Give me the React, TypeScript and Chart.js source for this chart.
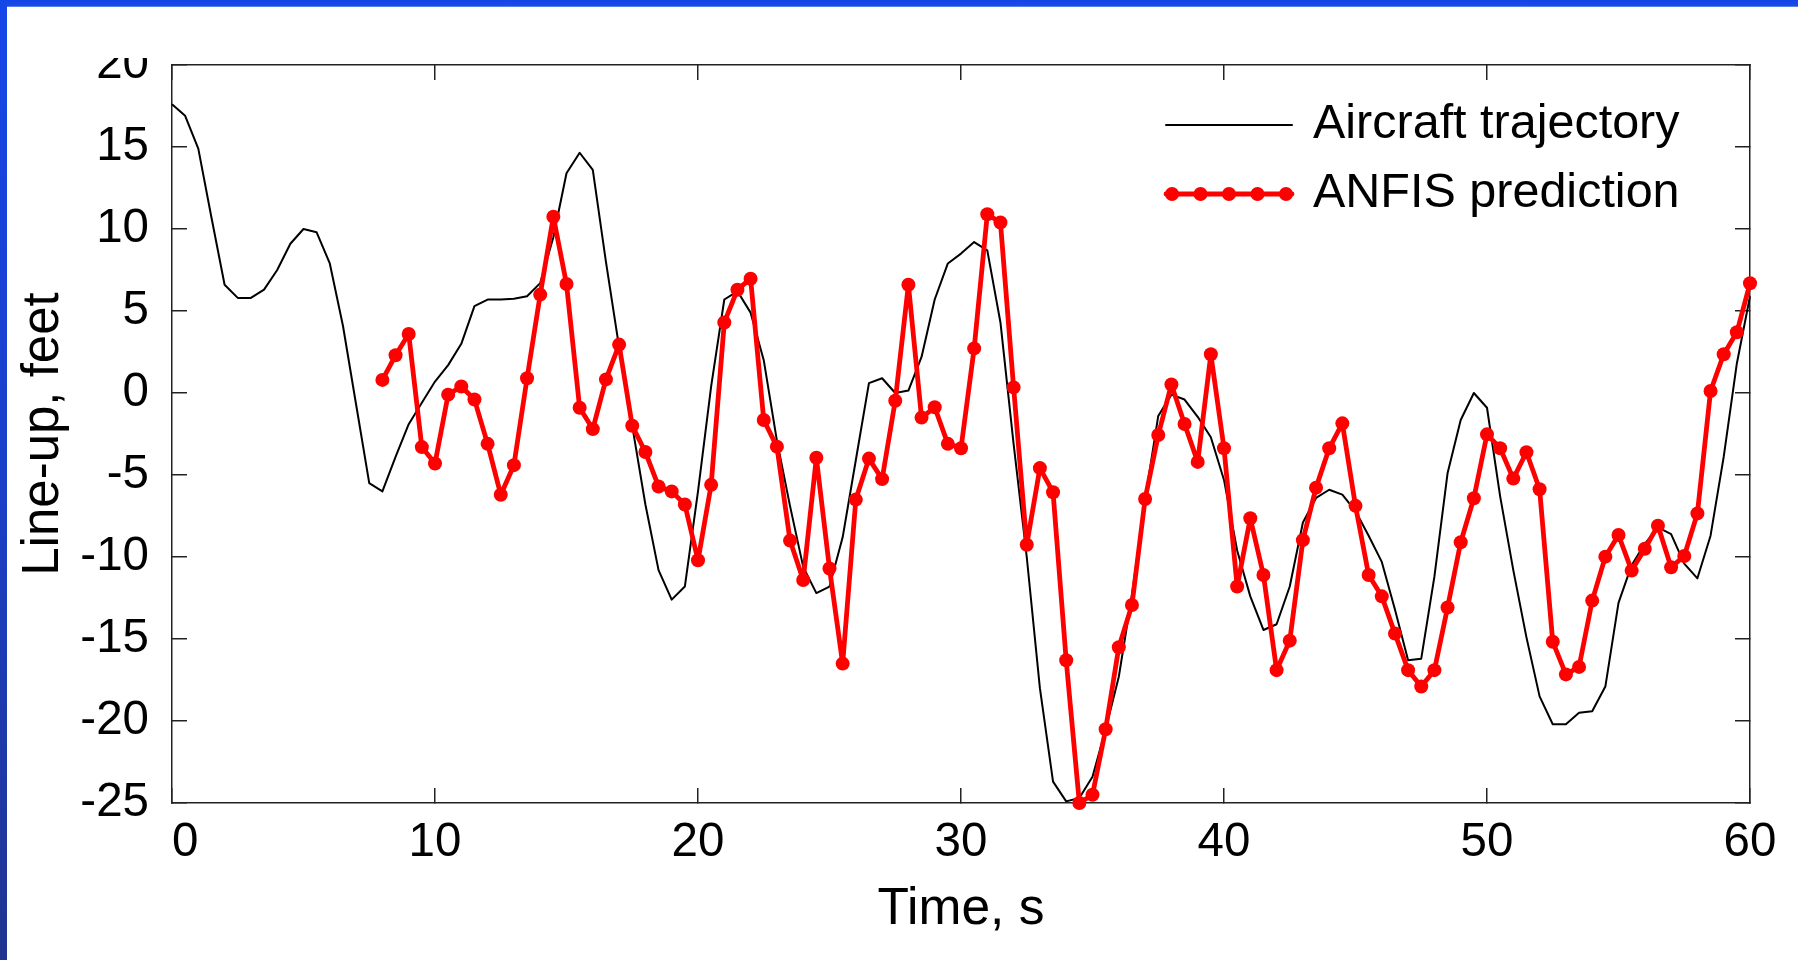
import React, { useEffect, useRef } from 'react';
import { Chart, registerables } from 'chart.js';

Chart.register(...registerables);

const FONT = '"Liberation Sans", Arial, Helvetica, sans-serif';

const seriesNames = ['Aircraft trajectory', 'ANFIS prediction'];
const xTitle = 'Time, s';
const yTitle = 'Line-up, feet';

const timeTicks = [0, 10, 20, 30, 40, 50, 60];
const lineupTicks = [-25, -20, -15, -10, -5, 0, 5, 10, 15, 20];

const trajTime = [
  0, 0.5, 1, 1.5, 2, 2.5, 3, 3.5, 4, 4.5,
  5, 5.5, 6, 6.5, 7, 7.5, 8, 8.5, 9, 9.5,
  10, 10.5, 11, 11.5, 12, 12.5, 13, 13.5, 14, 14.5,
  15, 15.5, 16, 16.5, 17, 17.5, 18, 18.5, 19, 19.5,
  20, 20.5, 21, 21.5, 22, 22.5, 23, 23.5, 24, 24.5,
  25, 25.5, 26, 26.5, 27, 27.5, 28, 28.5, 29, 29.5,
  30, 30.5, 31, 31.5, 32, 32.5, 33, 33.5, 34, 34.5,
  35, 35.5, 36, 36.5, 37, 37.5, 38, 38.5, 39, 39.5,
  40, 40.5, 41, 41.5, 42, 42.5, 43, 43.5, 44, 44.5,
  45, 45.5, 46, 46.5, 47, 47.5, 48, 48.5, 49, 49.5,
  50, 50.5, 51, 51.5, 52, 52.5, 53, 53.5, 54, 54.5,
  55, 55.5, 56, 56.5, 57, 57.5, 58, 58.5, 59, 59.5,
  60,
];

const trajLineup = [
  17.6, 16.9, 14.9, 10.7, 6.6, 5.8, 5.8, 6.3, 7.5, 9.1,
  10.0, 9.8, 7.9, 4.1, -0.7, -5.5, -6.0, -3.9, -1.9, -0.6,
  0.7, 1.7, 3.0, 5.3, 5.7, 5.7, 5.75, 5.9, 6.7, 9.5,
  13.4, 14.65, 13.6, 8.0, 2.8, -2.0, -6.8, -10.8, -12.6, -11.8,
  -6.0, 0.4, 5.7, 6.2, 4.9, 2.0, -2.9, -6.9, -10.6, -12.2,
  -11.8, -8.8, -4.1, 0.6, 0.9, 0.0, 0.15, 2.2, 5.7, 7.9,
  8.5, 9.2, 8.7, 4.3, -3.1, -10.0, -18.0, -23.7, -24.9, -24.7,
  -23.4, -20.5, -17.3, -12.3, -6.5, -1.4, -0.1, -0.4, -1.45, -2.7,
  -5.3, -9.6, -12.4, -14.45, -14.1, -11.8, -7.9, -6.4, -5.9, -6.2,
  -7.2, -8.7, -10.3, -13.2, -16.3, -16.2, -11.2, -4.9, -1.65, 0.0,
  -0.9, -6.3, -10.8, -14.9, -18.5, -20.2, -20.2, -19.5, -19.4, -17.9,
  -12.8, -10.5, -9.2, -8.2, -8.6, -10.4, -11.3, -8.7, -3.9, 1.8,
  5.9,
];

// prediction starts at t = 8 s, on the same sampling grid
const predTime = trajTime.slice(trajTime.indexOf(8));

const predLineup = [
  0.8, 2.3, 3.6, -3.3, -4.3, -0.1, 0.4, -0.4, -3.1, -6.2,
  -4.4, 0.9, 6.0, 10.75, 6.65, -0.9, -2.2, 0.83, 2.95, -2.0,
  -3.6, -5.7, -6.0, -6.8, -10.2, -5.6, 4.3, 6.3, 6.97, -1.65,
  -3.27, -9.0, -11.4, -3.95, -10.7, -16.5, -6.5, -4.0, -5.25, -0.47,
  6.6, -1.5, -0.87, -3.1, -3.37, 2.72, 10.9, 10.4, 0.34, -9.25,
  -4.58, -6.05, -16.3, -25.0, -24.5, -20.5, -15.5, -12.93, -6.46, -2.56,
  0.52, -1.89, -4.2, 2.36, -3.37, -11.8, -7.64, -11.1, -16.9, -15.1,
  -8.97, -5.77, -3.37, -1.85, -6.88, -11.1, -12.4, -14.67, -16.9, -17.9,
  -16.9, -13.08, -9.1, -6.42, -2.52, -3.37, -5.22, -3.61, -5.87, -15.17,
  -17.16, -16.7, -12.66, -9.98, -8.66, -10.83, -9.5, -8.09, -10.63, -9.94,
  -7.34, 0.12, 2.36, 3.7, 6.69,
];

const AXIS_COLOR = '#222';

const insideLegend = {
  id: 'insideLegend',
  afterDatasetsDraw(chart: any) {
    const { ctx, chartArea } = chart;
    const x0 = chartArea.right - 584;
    const x1 = chartArea.right - 458;
    const tx = chartArea.right - 437;
    const rows = [chartArea.top + 60, chartArea.top + 129];
    chart.data.datasets.forEach((ds: any, i: number) => {
      const y = rows[i];
      ctx.save();
      ctx.strokeStyle = ds.borderColor;
      ctx.lineWidth = ds.borderWidth;
      ctx.lineCap = 'round';
      ctx.beginPath();
      ctx.moveTo(x0, y);
      ctx.lineTo(x1, y);
      ctx.stroke();
      if (ds.pointRadius > 0) {
        ctx.fillStyle = ds.pointBackgroundColor;
        for (let k = 0; k < 5; k++) {
          const px = x0 + 6 + (k * (x1 - x0 - 12)) / 4;
          ctx.beginPath();
          ctx.arc(px, y, ds.pointRadius, 0, Math.PI * 2);
          ctx.fill();
        }
      }
      ctx.fillStyle = '#000';
      ctx.font = `48.5px ${FONT}`;
      ctx.textAlign = 'left';
      ctx.textBaseline = 'middle';
      ctx.fillText(ds.label, tx, y);
      ctx.restore();
    });
  },
};

const frameGrid = {
  drawOnChartArea: false,
  drawTicks: true,
  tickLength: -15,
  color: AXIS_COLOR,
  lineWidth: 1.5,
};
const frameBorder = { display: true, color: AXIS_COLOR, width: 1.5 };

export default function App() {
  const canvasRef = useRef<HTMLCanvasElement | null>(null);

  useEffect(() => {
    const canvas = canvasRef.current;
    if (!canvas) return;
    const chart = new Chart(canvas, {
      type: 'line',
      data: {
        datasets: [
          {
            label: seriesNames[0],
            data: trajTime.map((t, i) => ({ x: t, y: trajLineup[i] })),
            borderColor: '#000000',
            backgroundColor: '#000000',
            borderWidth: 2,
            pointRadius: 0,
            tension: 0,
            borderJoinStyle: 'round',
            clip: false as any,
            order: 1,
            xAxisID: 'x',
            yAxisID: 'y',
          },
          {
            label: seriesNames[1],
            data: predTime.map((t, i) => ({ x: t, y: predLineup[i] })),
            borderColor: '#ff0000',
            backgroundColor: '#ff0000',
            pointBackgroundColor: '#ff0000',
            pointBorderColor: '#ff0000',
            pointBorderWidth: 0,
            borderWidth: 4.8,
            pointRadius: 7,
            tension: 0,
            borderJoinStyle: 'round',
            borderCapStyle: 'round',
            clip: false as any,
            order: 0,
            xAxisID: 'x',
            yAxisID: 'y',
          },
        ],
      },
      options: {
        responsive: false,
        animation: false,
        events: [],
        layout: { padding: { top: 7, right: 48, left: 0, bottom: 0 } },
        plugins: {
          legend: { display: false },
          tooltip: { enabled: false },
          title: { display: false },
        },
        scales: {
          x: {
            type: 'linear',
            position: 'bottom',
            min: 0,
            max: 60,
            afterBuildTicks: (s: any) => {
              s.ticks = timeTicks.map((v) => ({ value: v }));
            },
            afterFit: (s: any) => {
              s.height = 157;
              s.paddingLeft = 0;
              s.paddingRight = 0;
            },
            grid: frameGrid,
            border: frameBorder,
            ticks: {
              padding: 26,
              color: '#000',
              font: { family: FONT, size: 47.5 },
              maxRotation: 0,
              autoSkip: false,
              callback: (v: any, i: number) => (i === 0 ? '  ' + v : String(v)),
            },
            title: {
              display: true,
              text: xTitle,
              color: '#000',
              font: { family: FONT, size: 51.5 },
              padding: { top: 0, bottom: 19 },
            },
          },
          y: {
            type: 'linear',
            position: 'left',
            min: -25,
            max: 20,
            afterBuildTicks: (s: any) => {
              s.ticks = lineupTicks.map((v) => ({ value: v }));
            },
            afterFit: (s: any) => {
              s.width = 172;
              s.paddingTop = 0;
              s.paddingBottom = 0;
            },
            grid: frameGrid,
            border: frameBorder,
            ticks: {
              padding: 38,
              color: '#000',
              font: { family: FONT, size: 47.5 },
              autoSkip: false,
              callback: (v: any) => String(v),
            },
            title: {
              display: true,
              text: yTitle,
              color: '#000',
              font: { family: FONT, size: 51 },
              padding: { top: 13, bottom: 0 },
            },
          },
          x2: {
            type: 'linear',
            position: 'top',
            min: 0,
            max: 60,
            afterBuildTicks: (s: any) => {
              s.ticks = timeTicks.map((v) => ({ value: v }));
            },
            afterFit: (s: any) => {
              s.height = 0;
              s.paddingLeft = 0;
              s.paddingRight = 0;
            },
            grid: frameGrid,
            border: frameBorder,
            ticks: { display: false },
          },
          y2: {
            type: 'linear',
            position: 'right',
            min: -25,
            max: 20,
            afterBuildTicks: (s: any) => {
              s.ticks = lineupTicks.map((v) => ({ value: v }));
            },
            afterFit: (s: any) => {
              s.width = 0;
              s.paddingTop = 0;
              s.paddingBottom = 0;
            },
            grid: frameGrid,
            border: frameBorder,
            ticks: { display: false },
          },
        },
      } as any,
      plugins: [insideLegend],
    });
    return () => chart.destroy();
  }, []);

  return (
    <div
      style={{
        position: 'absolute',
        left: 0,
        top: 0,
        width: 1798,
        height: 960,
        background: '#ffffff',
        overflow: 'hidden',
      }}
    >
      <canvas
        ref={canvasRef}
        width={1798}
        height={902}
        style={{ position: 'absolute', left: 0, top: 58, width: 1798, height: 902, display: 'block' }}
      />
      <div
        style={{
          position: 'absolute',
          left: 0,
          top: 0,
          width: 1798,
          height: 7,
          background: 'linear-gradient(to bottom, #1444e6 0%, #1a4ae8 80%, #7f9cf0 100%)',
        }}
      />
      <div
        style={{
          position: 'absolute',
          left: 0,
          top: 0,
          width: 7,
          height: 960,
          background: 'linear-gradient(to bottom, #1546e8 0%, #1a40c8 50%, #1f3490 100%)',
        }}
      />
    </div>
  );
}
